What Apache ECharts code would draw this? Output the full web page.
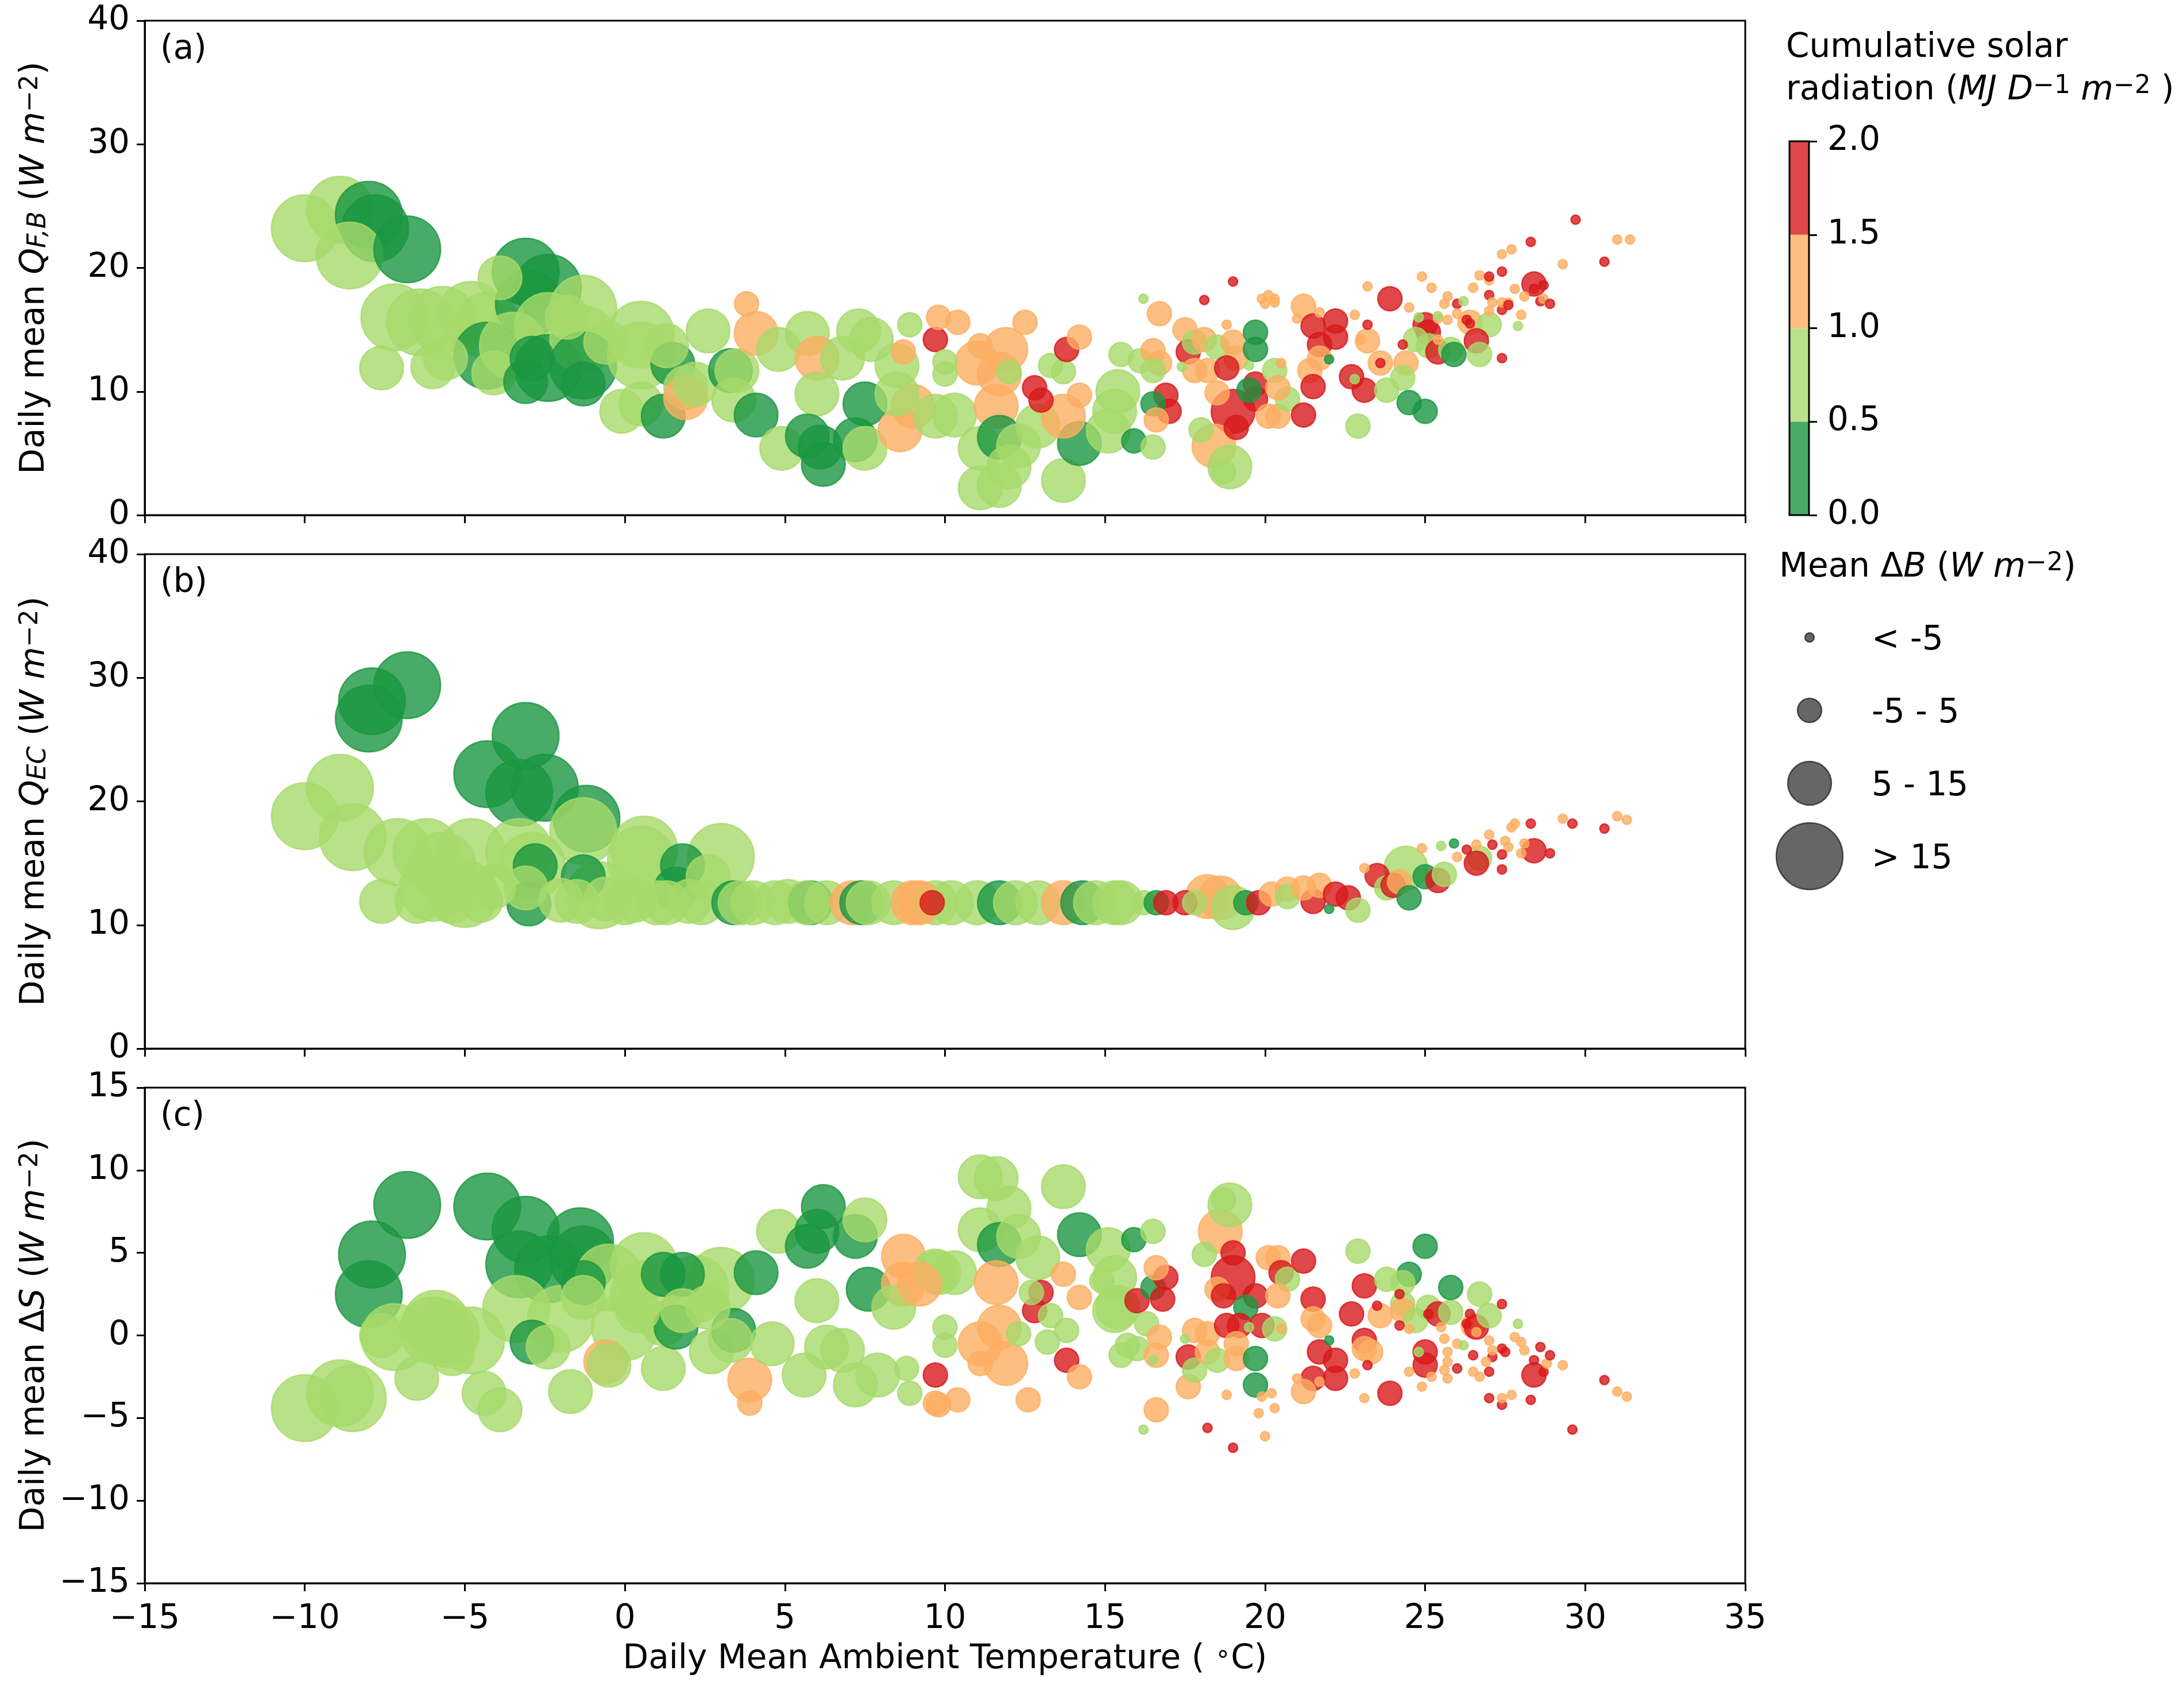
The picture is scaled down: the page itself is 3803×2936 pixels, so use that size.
<!DOCTYPE html>
<html><head><meta charset="utf-8">
<script src="https://cdn.jsdelivr.net/npm/echarts@6/dist/echarts.min.js"></script>
<style>html,body{margin:0;padding:0;background:#fff}#c{width:3803px;height:2936px}</style>
</head><body><div id="c"></div>
<script>
// Radiation classes (MJ D^-1 m^-2): 0:[0,0.5) 1:[0.5,1) 2:[1,1.5) 3:[1.5,2]
const RAD_TICKS = [0, 0.5, 1.0, 1.5, 2.0];
// Mean ΔB classes (W m^-2)
const DB_LABELS = ['< -5', '-5 - 5', '5 - 15', '> 15'];
const X_TICKS = { min: -15, max: 35, step: 5 };

// Each point: [temperature °C, value, radiation class, ΔB class]
const panelA = [
[-10.0,23.2,1,3],[-8.9,24.7,1,3],[-8.0,24.3,0,3],[-7.8,23.2,0,3],[-8.6,21.0,1,3],[-6.8,21.5,0,3],
[-7.2,16.0,1,3],[-7.6,11.9,1,2],[-6.4,15.6,1,3],[-5.7,15.8,1,3],[-6.0,12.0,1,2],[-5.6,12.7,1,2],
[-4.8,16.2,1,3],[-4.3,15.3,1,3],[-4.3,12.9,0,3],[-4.1,11.5,1,2],[-3.9,19.2,1,2],[-3.1,19.7,0,3],
[-2.4,18.4,0,3],[-3.0,17.1,0,3],[-3.5,13.7,1,3],[-3.1,10.8,0,2],[-2.9,12.7,0,2],[-2.4,15.3,1,3],
[-2.4,11.9,0,3],[-1.3,16.7,1,3],[-1.8,16.0,1,2],[-1.3,14.2,1,3],[-1.3,12.1,0,3],[-1.3,10.6,0,2],
[-0.6,14.0,1,2],[0.5,14.6,1,3],[0.5,12.9,1,3],[-0.1,8.4,1,2],[0.5,9.0,1,2],[1.2,8.0,0,2],
[1.5,12.2,0,2],[1.3,13.7,1,2],[1.9,10.3,1,2],
[1.9,9.5,2,2],[2.2,10.6,1,2],[2.6,14.9,1,2],[3.3,11.7,0,2],[3.5,11.7,1,2],[3.8,17.1,2,1],
[4.1,14.7,2,2],[3.4,9.3,1,2],[4.1,8.1,0,2],[4.8,13.4,1,2],[5.7,14.7,1,2],[6.0,12.7,2,2],
[6.0,9.8,1,2],[4.9,5.4,1,2],[5.7,6.4,0,2],[6.1,5.5,0,2],[6.2,4.1,0,2],[7.3,14.9,1,2],
[7.7,14.2,1,2],[7.2,6.1,0,2],[7.5,9.0,0,2],[7.5,5.4,1,2],[6.8,12.7,1,2],[8.5,12.1,1,2],
[8.6,6.9,2,2],[9.0,8.8,2,2],[8.7,13.2,2,1],[8.5,9.8,1,2],[8.9,15.4,1,1],[9.7,14.2,3,1],
[9.8,16.0,2,1],[10.4,15.6,2,1],[10.0,12.4,1,1],[10.0,11.4,1,1],[9.7,8.0,1,2],[10.3,8.1,1,2],
[11.0,12.3,2,2],[11.9,13.4,2,2],[11.1,13.7,2,1],[11.7,11.4,2,2],[11.6,8.8,2,2],[12.5,15.6,2,1],
[12.0,11.6,1,1],[11.1,5.4,1,2],[11.7,6.3,0,2],[12.3,5.6,1,2],[11.1,2.2,1,2],[11.7,2.4,1,2],
[12.0,3.9,1,2],[12.8,10.3,3,1],[13.0,9.3,3,1],[13.3,12.1,1,1],[13.7,11.6,1,1],[13.8,13.4,3,1],
[14.2,14.4,2,1],[14.2,9.7,2,1],[13.7,2.8,1,2],[14.2,5.8,0,2],[12.9,7.2,1,2],[13.7,8.0,2,2],
[15.5,13.0,1,1],[15.4,10.0,1,2],[15.3,8.4,1,2],[15.1,6.8,1,2],[15.9,6.0,0,1],[16.5,5.5,1,1],
[16.2,17.5,1,0],[16.7,16.3,2,1],[16.1,12.5,1,1],[16.5,13.3,2,1],[16.7,12.3,2,1],[16.5,11.7,1,1],
[16.9,9.7,3,1],[17.0,8.4,3,1],[16.5,9.0,0,1],[16.6,7.7,2,1],[17.5,15.0,2,1],[17.6,13.2,3,1],
[17.8,14.0,1,1],[17.4,12.0,1,0],[17.8,11.7,2,1],[18.0,6.9,1,1],[18.1,17.4,3,0],
[18.1,14.2,2,1],[18.5,13.6,1,1],[19.0,14.0,2,1],[19.1,12.7,2,1],[18.2,11.7,2,1],[18.8,15.4,2,0],
[19.0,18.9,3,0],[19.7,14.8,0,1],[19.7,13.4,0,1],[19.5,12.1,1,0],[18.8,11.9,3,1],[19.7,10.6,3,1],
[20.3,11.7,1,1],[19.7,9.4,3,1],[19.5,10.1,0,1],[18.5,9.9,2,1],[19.0,8.4,3,2],[19.1,7.1,3,1],
[18.4,5.6,2,2],[18.9,3.9,1,2],[18.7,3.5,1,1],[20.1,8.0,2,1],[20.4,8.0,2,1],
[20.7,9.4,1,1],[20.4,10.3,2,1],[21.2,8.1,3,1],[20.5,12.3,2,0],
[19.9,17.5,2,0],[20.1,17.8,2,0],[20.3,17.5,2,0],[20.0,17.1,2,0],[20.3,17.2,2,0],
[21.2,16.9,2,1],[21.7,16.4,2,0],[21.0,15.9,2,0],[21.5,15.3,3,1],[22.2,15.7,3,1],[21.7,13.8,3,1],
[22.2,14.4,3,1],[21.7,12.7,2,1],[21.4,11.7,2,1],[21.5,10.4,3,1],[22.0,12.6,0,0],[22.7,11.2,3,1],
[22.8,11.0,1,0],[23.1,10.1,3,1],[22.9,7.2,1,1],[22.8,16.2,2,0],[23.2,18.5,2,0],[23.2,15.4,3,0],
[23.0,14.2,2,0],[23.2,14.1,2,1],[23.6,12.3,2,1],[23.6,12.3,3,0],[23.8,10.1,1,1],[23.9,17.5,3,1],
[24.5,16.8,2,0],[24.3,13.8,3,0],[24.4,12.3,2,1],[24.3,11.1,1,1],[24.5,9.1,0,1],[25.0,8.4,0,1],
[24.9,19.3,2,0],[25.2,18.4,2,0],[25.7,17.7,2,0],[25.6,17.1,2,0],[26.0,17.1,3,0],[24.8,16.0,1,0],
[25.0,15.4,3,1],[25.1,14.8,3,1],[24.7,14.2,1,1],[25.1,13.7,1,1],[25.4,14.2,2,0],[25.4,15.9,2,0],
[25.7,15.8,2,0],[25.4,16.1,1,0],[25.4,13.2,3,1],[25.8,13.4,1,1],[25.9,13.0,0,1],[26.0,16.3,2,0],
[26.2,17.3,1,0],[26.3,15.8,3,0],[26.4,15.5,3,0],[26.4,15.6,2,1],[26.5,18.4,2,0],[26.7,19.4,2,0],
[27.0,19.0,2,0],[27.0,19.3,3,0],[27.0,17.8,3,0],[27.1,17.2,2,0],[27.4,16.6,3,0],[27.4,17.2,2,0],
[27.6,17.2,2,0],[27.6,17.0,3,0],[27.4,19.7,3,0],[27.4,21.1,2,0],[27.7,21.5,2,0],[27.0,16.5,2,0],
[27.0,15.4,1,1],[26.6,14.1,3,1],[26.7,13.0,1,1],[27.4,12.7,3,0],[27.8,18.3,2,0],[27.9,15.3,1,0],
[28.0,16.2,2,0],[28.1,17.7,2,0],[28.3,22.1,3,0],[28.4,18.7,3,1],[28.4,18.3,3,0],[28.6,17.3,3,0],
[28.7,18.6,3,0],[28.7,17.5,2,0],[28.9,17.1,3,0],[29.3,20.3,2,0],[29.7,23.9,3,0],[30.6,20.5,3,0],
[31.0,22.3,2,0],[31.4,22.3,2,0]
];

const panelB = [
[-10.0,18.8,1,3],[-8.9,21.1,1,3],[-8.5,17.1,1,3],[-8.0,26.7,0,3],[-7.9,28.1,0,3],[-6.8,29.4,0,3],
[-7.1,15.9,1,3],[-7.6,11.9,1,2],[-6.5,11.9,1,2],[-6.2,15.9,1,3],[-5.7,14.8,1,3],[-5.4,11.9,1,2],
[-4.8,15.9,1,3],[-4.3,22.2,0,3],[-3.1,25.3,0,3],[-3.3,20.7,0,3],[-2.5,21.1,0,3],[-1.2,18.6,0,3],
[-1.3,17.6,1,3],[-3.3,15.9,1,3],[-2.8,14.8,0,2],[-2.9,14.8,1,3],[-3.0,11.7,0,2],[-3.1,13.0,1,2],
[-4.1,13.1,1,2],[-1.3,13.9,0,2],[0.6,16.1,1,3],[0.5,15.3,1,3],[1.8,14.8,0,2],[1.6,12.9,0,2],
[2.6,13.9,1,2],[3.0,15.5,1,3],[-0.6,12.1,1,2],[0.0,11.8,1,2],
[-6.0,13.0,1,3],[-5.0,12.5,1,3],[-4.5,12.0,1,2],[-2.0,12.0,1,2],[-1.5,11.9,1,2],[-0.8,12.4,1,3],
[0.3,12.0,1,2],[1.0,11.8,1,2],[1.3,11.8,1,2],[2.0,11.9,1,2],[2.4,11.8,1,2],
[3.4,11.8,0,2],[3.6,11.8,1,2],[4.0,11.8,1,2],[4.7,11.8,1,2],[5.1,11.9,1,2],[5.8,11.8,0,2],
[5.7,11.8,1,2],[6.3,11.8,1,2],[7.1,11.8,2,2],[7.4,11.8,0,2],[7.6,11.8,1,2],[8.4,11.8,1,2],
[9.0,11.8,2,2],[9.6,11.8,3,1],[9.7,11.8,1,2],
[9.2,11.8,2,2],[10.2,11.8,1,2],[11.0,11.8,1,2],[11.7,11.8,0,2],[12.2,11.8,1,2],
[12.9,11.8,1,2],[13.7,11.8,2,2],[14.3,11.8,0,2],[14.7,11.8,1,2],[15.3,11.8,1,2],[15.5,11.8,1,2],
[16.2,11.8,1,1],[16.6,11.8,0,1],[16.9,11.8,3,1],[17.5,11.8,3,1],[17.8,11.8,1,1],[18.2,12.3,2,2],
[18.6,12.2,2,2],[19.0,11.4,1,2],[19.4,11.8,0,1],[19.8,11.8,3,1],[20.2,12.5,2,1],[20.7,12.9,2,1],
[20.7,12.3,1,1],[21.5,11.9,3,1],[21.2,13.0,2,1],[21.7,13.2,2,1],[22.2,12.5,3,1],[22.0,11.3,0,0],
[22.6,12.2,3,1],[22.9,11.2,1,1],[23.1,14.6,2,0],[23.5,14.0,3,1],[23.8,13.0,1,1],[24.0,13.2,3,1],
[24.2,13.5,2,1],[24.4,14.6,1,2],[24.9,16.2,2,0],[25.0,13.9,0,1],[24.5,12.2,0,1],[25.4,13.6,3,1],
[25.6,14.1,1,1],[25.5,16.4,1,0],[25.9,16.6,0,0],[26.0,15.5,2,0],[26.3,16.1,3,0],[26.6,16.5,2,0],
[26.7,15.4,1,1],[26.6,15.0,3,1],[27.0,17.3,2,0],[27.1,16.5,3,0],[27.5,16.8,2,0],[27.6,16.3,2,0],
[27.4,15.7,3,0],[27.4,14.5,3,0],[27.7,17.9,2,0],[27.8,18.2,2,0],[28.3,18.2,3,0],[28.4,16.0,3,1],
[28.9,15.8,3,0],[28.0,15.8,2,0],[28.1,16.6,2,0],[29.3,18.6,2,0],[29.6,18.2,3,0],[30.6,17.8,3,0],
[31.0,18.8,2,0],[31.3,18.5,2,0]
];

const panelC = [
[-10.0,-4.4,1,3],[-8.9,-3.5,1,3],[-8.5,-3.8,1,3],[-8.0,2.5,0,3],[-7.9,4.9,0,3],[-6.8,7.9,0,3],
[-7.2,-0.1,1,3],[-7.6,0.0,1,2],[-6.5,-2.6,1,2],[-6.0,0.3,1,3],[-5.6,0.1,1,3],[-5.4,-1.1,1,2],
[-4.8,-0.3,1,3],[-4.3,7.8,0,3],[-4.4,-3.5,1,2],[-3.9,-4.5,1,2],[-3.1,6.4,0,3],[-3.3,4.3,0,3],
[-2.4,4.0,0,3],[-3.4,1.6,1,3],[-2.9,-0.4,0,2],[-2.4,-0.7,1,2],[-1.4,5.7,0,3],[-1.3,4.6,0,3],
[-1.3,3.2,0,2],[-1.7,-3.4,1,2],[-1.3,2.3,1,2],[-0.6,-1.6,2,2],[-0.5,-1.8,1,2],[0.6,4.2,1,3],
[0.6,2.5,1,3],[1.2,0.7,1,2],[1.2,-2.0,1,2],[1.2,3.7,0,2],[1.8,3.7,0,2],[1.6,0.5,0,2],
[3.0,3.3,1,3],[2.7,-1.0,1,2],[3.4,0.3,0,2],[3.3,-0.3,1,2],[4.1,3.8,0,2],[3.9,-2.7,2,2],
[3.9,-4.1,2,1],[4.8,6.3,1,2],[6.2,7.8,0,2],[6.0,6.3,0,2],[5.7,5.4,0,2],[7.2,6.0,0,2],
[7.5,7.0,1,2],[7.6,2.8,0,2],[8.7,4.8,2,2],[8.7,3.1,2,2],[8.4,1.7,1,2],[6.0,2.1,1,2],
[6.3,-0.7,1,2],[5.6,-2.4,1,2],[7.2,-3.0,1,2],[7.9,-2.4,1,2],[8.9,-3.5,1,1],[8.8,-2.0,1,1],
[9.7,-2.4,3,1],[9.7,-4.1,2,1],[10.0,0.5,1,1],[9.8,3.8,1,2],[6.8,-0.9,1,2],[4.6,-0.5,1,2],
[2.6,1.7,1,2],[0.4,1.5,1,2],[-5.4,-0.1,1,2],[-5.9,0.7,1,3],
[-0.5,3.5,1,3],[0.0,0.5,1,3],[1.8,1.5,1,2],[2.2,2.8,1,3],[-2.0,1.0,1,3],
[11.1,9.6,1,2],[11.6,9.5,1,2],[12.0,7.7,1,2],[11.1,6.4,1,2],[11.7,5.5,0,2],[12.3,6.0,1,2],
[12.9,4.7,1,2],[13.7,9.0,1,2],[14.2,6.1,0,2],[15.1,5.2,1,2],[15.3,3.5,1,2],[15.4,1.7,1,2],
[15.9,5.8,0,1],[16.5,6.3,1,1],[10.3,3.8,1,2],[9.7,3.9,1,2],[9.2,3.1,2,2],[11.6,3.2,2,2],
[11.1,-0.5,2,2],[11.9,-1.7,2,2],[11.7,0.5,2,2],[11.1,-1.7,2,1],[12.6,-3.9,2,1],[10.0,-0.6,1,1],
[10.4,-3.9,2,1],[9.8,-4.2,2,1],[13.0,2.6,3,1],[12.8,1.5,3,1],[12.7,2.6,1,1],[12.3,0.1,1,1],
[13.3,1.2,1,1],[13.2,-0.4,1,1],[13.8,0.3,1,1],[14.2,2.3,2,1],[13.8,-1.5,3,1],[14.2,-2.5,2,1],
[13.7,3.7,2,1],[14.9,3.3,1,1],[15.3,1.5,1,2],[16.0,2.1,3,1],[16.5,2.9,0,1],[16.9,3.5,3,1],
[16.8,2.2,3,1],[16.6,4.1,2,1],[16.3,0.7,1,1],[15.7,-0.6,1,1],[15.5,-1.2,1,1],[16.0,-0.8,1,1],
[16.7,-0.1,2,1],[16.6,-1.2,2,1],[16.5,-1.5,1,0],[16.2,-5.7,1,0],[16.6,-4.5,2,1],[17.5,-0.2,1,0],
[17.6,-1.3,3,1],[17.6,-3.1,2,1],[17.8,-2.1,1,1],[17.8,0.3,2,1],[18.2,0.1,2,1],[18.2,-1.0,2,1],
[18.5,-1.5,1,1],[18.1,4.9,1,1],[18.6,6.3,2,2],[18.9,7.9,1,2],[18.7,8.2,1,1],[19.0,3.5,3,2],
[19.0,5.0,3,1],[18.5,2.8,2,1],[18.7,2.4,3,1],[19.7,2.4,3,1],[19.4,1.7,0,1],[18.8,0.6,3,1],
[19.2,0.6,3,1],[19.9,0.6,3,1],[19.1,-0.5,2,1],[19.1,-1.4,2,1],[19.5,0.5,1,0],[19.7,-1.4,0,1],
[19.7,-3.0,0,1],[18.8,-3.6,2,0],[19.9,-3.7,2,0],[20.2,-3.5,2,0],[20.3,-4.4,2,0],[19.8,-4.7,2,0],
[18.2,-5.6,3,0],[19.0,-6.8,3,0],[20.0,-6.1,2,0],[20.1,4.7,2,1],[20.4,4.7,2,1],[20.5,3.8,3,1],
[20.7,3.4,1,1],[20.4,2.4,2,1],[20.3,0.4,1,1],[20.5,0.4,2,0],[21.2,4.5,3,1],[21.5,2.2,3,1],
[21.5,1.0,2,1],[21.7,0.6,2,1],[21.7,-1.0,3,1],[22.2,-1.5,3,1],[22.2,-2.6,3,1],[21.5,-2.6,3,1],
[21.7,-2.8,2,0],[21.2,-3.4,2,1],[21.0,-2.6,2,0],[22.0,-0.3,0,0],[22.8,-2.3,2,0],[23.1,-3.8,2,0],
[23.9,-3.5,3,1],[22.9,5.1,1,1],[23.1,3.0,3,1],[22.7,1.3,3,1],[23.1,-0.3,3,1],[23.1,-0.8,2,1],
[23.3,-1.0,2,1],[23.2,-1.8,3,0],[23.5,1.8,3,0],[23.6,1.2,2,1],[23.8,3.4,1,1],[24.5,3.7,0,1],
[24.3,3.2,1,1],[24.2,2.5,3,0],[24.3,1.9,1,1],[24.3,1.5,2,1],[24.7,0.9,1,1],[24.2,0.6,3,0],
[24.5,0.4,2,0],[24.5,-2.2,2,0],[24.9,-3.1,2,0],[25.0,5.4,0,1],[25.1,1.7,1,1],[25.1,1.3,3,0],
[24.8,-1.0,1,0],[25.0,-1.0,3,1],[25.0,-1.8,3,1],[25.2,-2.5,2,0],[25.4,1.3,3,1],[25.5,0.5,2,0],
[25.6,-0.2,2,0],[25.7,-1.0,2,0],[25.7,-1.6,2,0],[25.6,-2.1,2,0],[25.7,-2.6,2,0],[25.8,1.4,1,1],
[25.8,2.9,0,1],[26.0,-2.0,3,0],[26.0,-0.5,2,0],[26.2,-0.6,1,0],[26.3,0.7,3,0],[26.4,1.3,3,0],
[26.5,0.6,2,1],[26.6,0.2,2,0],[26.7,2.5,1,1],[26.6,0.5,3,1],[27.0,1.2,1,1],[26.5,-1.2,3,0],
[26.5,-2.2,2,0],[26.7,-2.5,2,0],[27.0,-2.2,3,0],[27.0,-3.8,3,0],[27.4,-4.2,3,0],[27.4,-3.8,2,0],
[27.7,-3.6,2,0],[27.1,-1.3,3,0],[26.9,-1.6,2,0],[27.0,-0.3,2,0],[27.4,1.9,3,0],[27.4,-0.8,3,0],
[27.1,-0.9,2,0],[27.5,-1.0,3,0],[27.8,-0.1,2,0],[27.9,0.7,1,0],[28.0,-0.4,2,0],[28.1,-0.9,2,0],
[28.3,-3.9,3,0],[28.4,-1.5,3,0],[28.4,-2.4,3,1],[28.6,-0.7,3,0],[28.7,-2.2,3,0],[28.8,-1.7,2,0],
[28.9,-1.2,3,0],[29.3,-1.8,2,0],[29.6,-5.7,3,0],[30.6,-2.7,3,0],[31.0,-3.4,2,0],[31.3,-3.7,2,0]
];

// ---------- styling ----------
const FONT = 'DejaVu Sans';
const FS = 58;
const RAD_COLORS = ['#1a9641', '#a6d96a', '#fdae61', '#d7191c'];
const CB_COLORS = ['#48ab67', '#b8e188', '#fdbe81', '#df4749'];
const SIZES = [16, 42, 76, 116];
const L = 252, W = 2787;
const GRIDS = [{top: 36, h: 861}, {top: 965, h: 861}, {top: 1894, h: 863}];

const minus = v => String(v).replace('-', '\u2212');
const richY = {
  i: {fontStyle: 'italic', fontSize: FS, fontFamily: FONT},
  sub: {fontStyle: 'italic', fontSize: 44, fontFamily: FONT, verticalAlign: 'bottom', lineHeight: 44},
  sup: {fontSize: 44, fontFamily: FONT, verticalAlign: 'top', lineHeight: 44}
};
const yNames = [
  'Daily mean {i|Q}{sub|F,B} ({i|W m}{sup|\u22122})',
  'Daily mean {i|Q}{sub|EC} ({i|W m}{sup|\u22122})',
  'Daily mean \u0394{i|S} ({i|W m}{sup|\u22122})'
];
const yRanges = [[0, 40, 10], [0, 40, 10], [-15, 15, 5]];

function mkSeries(data, idx) {
  const sorted = data.slice().sort((a, b) => b[3] - a[3]);
  return {
    type: 'scatter', xAxisIndex: idx, yAxisIndex: idx, clip: true,
    silent: true, animation: false,
    data: sorted.map(p => ({
      value: [p[0], p[1]],
      symbolSize: SIZES[p[3]],
      itemStyle: {color: RAD_COLORS[p[2]], borderColor: RAD_COLORS[p[2]], borderWidth: 2.5, opacity: 0.8}
    }))
  };
}

const grid = GRIDS.map(g => ({left: L, top: g.top, width: W, height: g.h, show: true,
  borderColor: '#000', borderWidth: 3, backgroundColor: 'transparent'}));
grid.push({left: 3116, top: 246, width: 34, height: 651});

const xAxis = GRIDS.map((g, i) => ({
  type: 'value', gridIndex: i, min: X_TICKS.min, max: X_TICKS.max, interval: X_TICKS.step,
  axisLine: {show: true, onZero: false, lineStyle: {color: '#000', width: 3}},
  axisTick: {show: true, inside: false, length: 14, lineStyle: {color: '#000', width: 3}},
  axisLabel: {show: i === 2, color: '#000', fontSize: FS, fontFamily: FONT, margin: 34, formatter: minus},
  splitLine: {show: false},
  name: i === 2 ? 'Daily Mean Ambient Temperature ( {sup|\u2218}C)' : '',
  nameLocation: 'middle', nameGap: 104,
  nameTextStyle: {color: '#000', fontSize: FS, fontFamily: FONT, rich: {sup: {fontSize: 44, fontFamily: FONT, verticalAlign: 'top', lineHeight: 44}}}
}));
xAxis.push({type: 'category', gridIndex: 3, data: ['cb'], show: false});

const yAxis = GRIDS.map((g, i) => ({
  type: 'value', gridIndex: i, min: yRanges[i][0], max: yRanges[i][1], interval: yRanges[i][2],
  axisLine: {show: true, onZero: false, lineStyle: {color: '#000', width: 3}},
  axisTick: {show: true, inside: false, length: 14, lineStyle: {color: '#000', width: 3}},
  axisLabel: {color: '#000', fontSize: FS, fontFamily: FONT, margin: 26, formatter: minus, padding: [14, 0, 0, 0]},
  splitLine: {show: false},
  name: yNames[i], nameLocation: 'middle', nameGap: 162, nameRotate: 90,
  nameTextStyle: {color: '#000', fontSize: FS, fontFamily: FONT, rich: richY}
}));
yAxis.push({
  type: 'value', gridIndex: 3, position: 'right', min: RAD_TICKS[0], max: RAD_TICKS[RAD_TICKS.length - 1],
  interval: RAD_TICKS[1] - RAD_TICKS[0],
  axisLine: {show: false},
  axisTick: {show: true, inside: false, length: 14, lineStyle: {color: '#000', width: 3}},
  axisLabel: {color: '#000', fontSize: FS, fontFamily: FONT, margin: 32, formatter: v => v.toFixed(1), padding: [14, 0, 0, 0]},
  splitLine: {show: false}
});

const series = [mkSeries(panelA, 0), mkSeries(panelB, 1), mkSeries(panelC, 2)];
for (let k = 0; k < RAD_TICKS.length - 1; k++) {
  series.push({
    type: 'bar', xAxisIndex: 3, yAxisIndex: 3, stack: 'cb', barWidth: '100%', silent: true,
    data: [RAD_TICKS[k + 1] - RAD_TICKS[k]], itemStyle: {color: CB_COLORS[k]}
  });
}

const txt = (x, y, text, extra) => ({
  type: 'text', x: x, y: y, silent: true, z: 100,
  style: Object.assign({text: text, fill: '#000', font: FS + 'px "' + FONT + '"',
    textAlign: 'left', textVerticalAlign: 'middle', align: 'left', verticalAlign: 'middle'}, extra || {})
});

const graphic = [
  txt(279, 87, '(a)'), txt(279, 1016, '(b)'), txt(279, 1945, '(c)'),
  txt(3110, 84, 'Cumulative solar'),
  txt(3110, 158, 'radiation ({i|MJ D}{sup|\u22121}{i| m}{sup|\u22122} )', {rich: richY}),
  txt(3098, 989, 'Mean \u0394{i|B} ({i|W m}{sup|\u22122})', {rich: richY}),
  {type: 'rect', silent: true, z: 100, shape: {x: 3116, y: 246, width: 34, height: 651},
    style: {fill: 'none', stroke: '#000', lineWidth: 3}}
];
const legY = [1110, 1237, 1364, 1491];
DB_LABELS.forEach((lab, i) => {
  graphic.push({type: 'circle', silent: true, z: 100, shape: {cx: 3151, cy: legY[i], r: SIZES[i] / 2},
    style: {fill: 'rgba(0,0,0,0.6)', stroke: 'rgba(0,0,0,0.6)', lineWidth: 2.5}});
  graphic.push(txt(3259, legY[i] + 6, lab));
});

const chart = echarts.init(document.getElementById('c'), null, {renderer: 'canvas'});
chart.setOption({
  animation: false, backgroundColor: '#fff',
  textStyle: {fontFamily: FONT},
  grid: grid, xAxis: xAxis, yAxis: yAxis, series: series, graphic: graphic
});
</script></body></html>
